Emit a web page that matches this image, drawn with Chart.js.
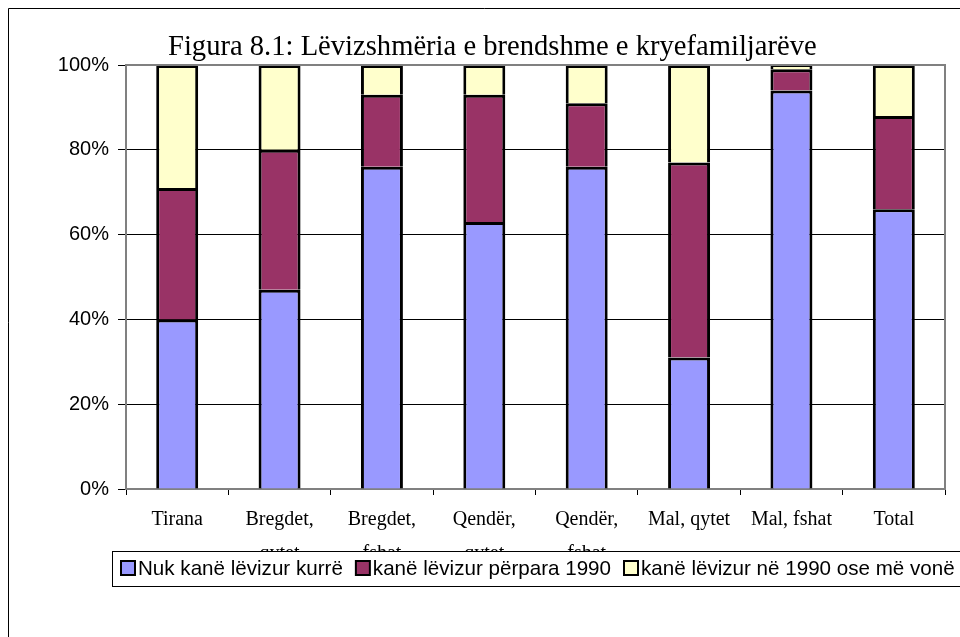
<!DOCTYPE html>
<html>
<head>
<meta charset="utf-8">
<script src="https://cdn.jsdelivr.net/npm/chart.js@4.4.0/dist/chart.umd.min.js"></script>
<style>
  html, body { margin: 0; padding: 0; background: #fff; }
  #wrap { width: 960px; height: 637px; }
</style>
</head>
<body>
<div id="wrap"><canvas id="myChart" width="960" height="637"></canvas></div>
<script>
var categories = [['Tirana'], ['Bregdet,', 'qytet'], ['Bregdet,', 'fshat'], ['Qendër,', 'qytet'], ['Qendër,', 'fshat'], ['Mal, qytet'], ['Mal, fshat'], ['Total']];
var seriesNames = ['Nuk kanë lëvizur kurrë', 'kanë lëvizur përpara 1990', 'kanë lëvizur në 1990 ose më vonë'];
var neverMoved = [40, 47, 76, 63, 76, 31, 94, 66];
var movedBefore1990 = [31, 33, 17, 30, 15, 46, 5, 22];
var moved1990Later = [29, 20, 7, 7, 9, 23, 1, 12];
var yTicks = [0, 20, 40, 60, 80, 100];
var chartTitle = 'Figura 8.1: Lëvizshmëria e brendshme e kryefamiljarëve';

var colors = ['#9999FF', '#993366', '#FFFFCC'];

// frame, title, plot border and the legend box that sits over the 2nd label line
var decorations = {
    id: 'decorations',
    afterDraw: function(chart) {
        var c = chart.ctx;
        var a = chart.chartArea;
        c.save();
        // plot box top / right
        c.strokeStyle = '#808080';
        c.lineWidth = 2;
        c.beginPath();
        c.moveTo(a.left, a.top);
        c.lineTo(a.right, a.top);
        c.lineTo(a.right, a.bottom);
        c.stroke();
        // outer frame
        c.strokeStyle = '#000';
        c.lineWidth = 1;
        c.beginPath();
        c.moveTo(8.5, 637);
        c.lineTo(8.5, 8.5);
        c.lineTo(960, 8.5);
        c.stroke();
        // title
        c.fillStyle = '#000';
        c.font = '28.6px "Liberation Serif"';
        c.textAlign = 'left';
        c.textBaseline = 'alphabetic';
        c.fillText(chartTitle, 168, 55);
        // legend
        c.fillStyle = '#fff';
        c.fillRect(112.5, 551.5, 860, 35);
        c.strokeRect(112.5, 551.5, 860, 35);
        c.font = '20.6px "Liberation Sans"';
        c.textBaseline = 'middle';
        var x = 121;
        chart.data.datasets.forEach(function(ds) {
            c.fillStyle = ds.backgroundColor;
            c.fillRect(x, 561, 14, 14);
            c.lineWidth = 2;
            c.strokeStyle = '#000';
            c.strokeRect(x, 561, 14, 14);
            c.fillStyle = '#000';
            c.fillText(ds.label, x + 17, 569);
            x = x + 17 + c.measureText(ds.label).width + 13;
        });
        c.restore();
    }
};

var ctx = document.getElementById('myChart').getContext('2d');
var myChart = new Chart(ctx, {
    type: 'bar',
    data: {
        labels: categories,
        datasets: [
            { label: seriesNames[0], data: neverMoved, backgroundColor: colors[0], borderColor: '#000', borderWidth: 3 },
            { label: seriesNames[1], data: movedBefore1990, backgroundColor: colors[1], borderColor: '#000', borderWidth: 3 },
            { label: seriesNames[2], data: moved1990Later, backgroundColor: colors[2], borderColor: '#000', borderWidth: 3 }
        ]
    },
    options: {
        responsive: false,
        animation: false,
        layout: { padding: { top: 65, right: 15, left: 0, bottom: 0 } },
        datasets: {
            bar: {
                barPercentage: 0.41,
                categoryPercentage: 1
            }
        },
        plugins: {
            legend: { display: false },
            title: { display: false },
            tooltip: { enabled: false }
        },
        scales: {
            x: {
                stacked: true,
                afterFit: function(s) { s.height = 148; },
                grid: { display: true, drawOnChartArea: false, offset: true, color: '#000', tickLength: 6 },
                border: { color: '#808080', width: 2 },
                ticks: {
                    color: '#000',
                    padding: 8,
                    maxRotation: 0,
                    autoSkip: false,
                    font: { family: 'Liberation Serif', size: 20, lineHeight: 1.7 }
                }
            },
            y: {
                stacked: true,
                min: 0,
                max: 100,
                afterFit: function(s) { s.width = 126; },
                afterBuildTicks: function(s) { s.ticks = yTicks.map(function(v) { return { value: v }; }); },
                grid: { color: '#000', lineWidth: 1, tickLength: 8 },
                border: { color: '#808080', width: 2 },
                ticks: {
                    color: '#000',
                    padding: 9,
                    font: { family: 'Liberation Sans', size: 20 },
                    callback: function(v) { return v + '%'; }
                }
            }
        }
    },
    plugins: [decorations]
});
</script>
</body>
</html>
